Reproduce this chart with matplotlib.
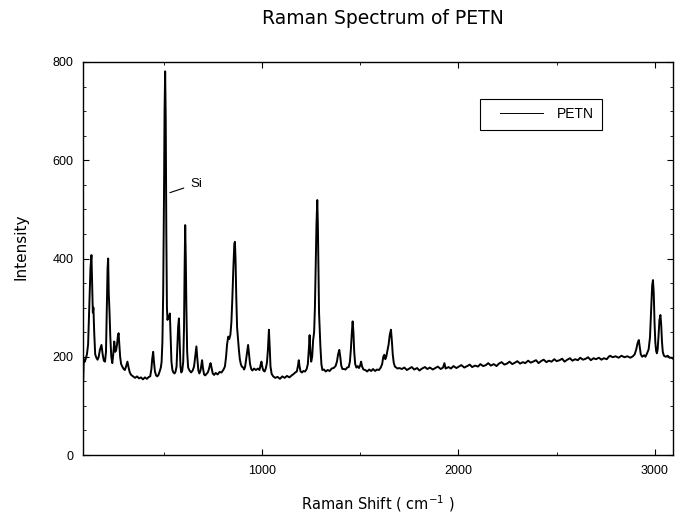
import numpy as np
import matplotlib
matplotlib.use("Agg")
import matplotlib.pyplot as plt
from matplotlib.lines import Line2D
from matplotlib.legend_handler import HandlerLine2D
from matplotlib.ticker import MultipleLocator

# ---- data (Raman shift cm-1, intensity) ----
shift_low = [91, 94, 99, 104, 110, 116, 122, 128, 133, 136, 140, 143, 147, 152, 158, 164, 170, 176,
             184, 190, 196, 202, 207, 211, 215, 218, 221, 225, 229, 234, 239, 244, 249, 254, 259,
             263, 267, 271, 275, 279, 284, 290, 297, 303, 309, 316, 322, 328, 335, 345, 355, 365,
             375, 385, 395, 405, 415, 425, 432, 438, 442, 447, 451, 456, 462, 468, 474, 480, 486,
             490, 494, 498, 502, 505, 508, 511, 514, 517, 520, 524, 528, 532, 536, 540, 545, 550,
             556, 561, 566, 570, 574, 578, 582, 586, 590, 595, 600, 604, 607, 610, 613, 616, 620,
             625, 632, 640, 648, 655, 661, 667, 672, 677, 682, 688, 692, 696]
intensity_low = [150, 195, 190, 196, 205, 225, 300, 380, 407, 360, 290, 300, 250, 205, 198, 194, 200, 214,
                 224, 205, 192, 190, 210, 290, 380, 400, 330, 290, 240, 200, 187, 205, 231, 210, 214,
                 225, 240, 248, 225, 200, 185, 180, 175, 173, 180, 190, 178, 168, 163, 160, 157, 160,
                 156, 158, 154, 158, 155, 159, 160, 175, 195, 210, 190, 170, 162, 160, 163, 170, 178,
                 190, 230, 330, 520, 700, 781, 680, 450, 300, 275, 282, 280, 288, 240, 190, 173, 168,
                 166, 170, 180, 220, 260, 278, 230, 180, 168, 172, 190, 260, 380, 468, 400, 300, 210,
                 178, 172, 168, 172, 180, 200, 221, 195, 172, 166, 172, 182, 193]

shift_mid = [700, 706, 712, 718, 725, 731, 735, 739, 744, 750, 757, 765, 775, 785, 795, 805, 812, 818,
             823, 829, 834, 840, 845, 850, 855, 860, 863, 866, 870, 874, 878, 883, 888, 893, 898, 905,
             910, 915, 920, 925, 930, 935, 940, 946, 952, 960, 970, 980, 988, 994, 998, 1003, 1008,
             1014, 1020, 1026, 1031, 1036, 1040, 1044, 1050, 1058, 1068, 1080, 1092, 1104, 1116, 1128,
             1140, 1152, 1162, 1170, 1178, 1184, 1188, 1192, 1197, 1204, 1212, 1220, 1228, 1234, 1239,
             1243, 1247, 1251, 1256, 1261, 1266, 1270, 1274, 1278, 1282, 1285, 1288, 1291, 1294, 1298,
             1303, 1308, 1316, 1325, 1335, 1345, 1355, 1365, 1375, 1382, 1388, 1394, 1399, 1404, 1410,
             1418, 1426, 1434, 1442, 1448, 1453, 1458, 1462, 1466, 1470, 1475, 1481, 1488, 1494, 1500,
             1505, 1510, 1517, 1526, 1536, 1546, 1556, 1566, 1576, 1586, 1596, 1605, 1612, 1618, 1623,
             1628, 1633, 1638, 1645, 1651, 1657, 1662, 1666, 1671, 1677, 1684, 1690]
intensity_mid = [178, 164, 162, 165, 168, 175, 182, 187, 178, 166, 163, 167, 164, 169, 168, 174, 180, 200,
                 225, 241, 236, 245, 270, 320, 380, 430, 434, 400, 320, 260, 240, 215, 195, 185, 180, 178,
                 174, 180, 195, 210, 224, 205, 185, 175, 172, 176, 173, 176, 173, 184, 190, 178, 172,
                 170, 176, 188, 215, 255, 220, 180, 165, 160, 157, 159, 155, 160, 157, 161, 158,
                 162, 165, 168, 170, 182, 193, 180, 170, 168, 171, 170, 175, 185, 215,
                 244, 210, 190, 200, 234, 250, 300, 380, 470, 519, 470, 380, 290, 261, 220,
                 185, 173, 174, 170, 173, 171, 176, 177, 181, 190, 205, 214, 200, 182, 175,
                 175, 174, 178, 179, 190, 215, 250, 272, 250, 210, 185, 178, 181, 177, 182,
                 190, 180, 174, 173, 170, 174, 171, 175, 171, 174, 173, 178, 185, 200, 204,
                 195, 200, 210, 225, 245, 255, 230, 205, 188, 180, 178, 176]

shift_high = [1700, 1712, 1725, 1738, 1750, 1763, 1775, 1790, 1802, 1815, 1830, 1842, 1855, 1870, 1882,
              1895, 1910, 1922, 1929, 1935, 1950, 1962, 1975, 1990, 2002, 2015, 2030, 2045, 2058, 2070,
              2085, 2100, 2112, 2126, 2140, 2152, 2165, 2180, 2194, 2206, 2220, 2234, 2247, 2260, 2274,
              2288, 2300, 2314, 2328, 2340, 2355, 2368, 2380, 2395, 2408, 2420, 2434, 2448, 2460, 2474,
              2488, 2500, 2515, 2528, 2540, 2554, 2568, 2580, 2594, 2608, 2620, 2634, 2648, 2660, 2674,
              2688, 2700, 2715, 2728, 2740, 2755, 2765, 2772, 2785, 2800, 2815, 2830, 2845, 2860, 2875,
              2888, 2897, 2905, 2912, 2918, 2923, 2928, 2935, 2945, 2952, 2960, 2968, 2975, 2981,
              2986, 2990, 2994, 2998, 3002, 3006, 3010, 3014, 3018, 3023, 3028, 3032, 3036, 3040, 3046,
              3055, 3065, 3075, 3085, 3092]
intensity_high = [177, 175, 178, 173, 176, 179, 174, 177, 172, 176, 179, 175, 178, 174, 177,
                  180, 175, 178, 187, 176, 179, 176, 181, 177, 180, 183, 178, 181, 184, 179,
                  182, 180, 185, 181, 183, 187, 182, 185, 181, 186, 189, 184, 186, 190, 185,
                  188, 191, 186, 189, 187, 192, 188, 190, 193, 187, 191, 194, 189, 192, 190,
                  195, 191, 193, 196, 190, 194, 197, 192, 195, 193, 198, 194, 196, 199, 193,
                  197, 195, 198, 194, 197, 195, 200, 202, 199, 201, 198, 202, 199, 201, 198,
                  201, 205, 215, 228, 234, 220, 205, 200, 203, 200, 207, 215, 240, 300,
                  345, 356, 330, 270, 230, 212, 207, 215, 240, 275, 285, 265, 230, 210, 202,
                  200, 202, 198, 198, 196]

series_name = "PETN"
title_text = "Raman Spectrum of PETN"
x_ticks = [1000, 2000, 3000]
y_ticks = [0, 200, 400, 600, 800]

shift = np.array(shift_low + shift_mid + shift_high, dtype=float)
intensity = np.array(intensity_low + intensity_mid + intensity_high, dtype=float)

plt.rcParams['font.family'] = ['Liberation Sans', 'DejaVu Sans']

fig = plt.figure(figsize=(6.76, 5.17), dpi=100)
ax = fig.add_axes([83/676, 1 - 455/517, 590/676, 393/517])

ax.plot(shift, intensity, color='black', lw=1.4)

ax.set_xlim(90, 3092)
ax.set_ylim(0, 800)
ax.set_xticks(x_ticks)
ax.set_yticks(y_ticks)
ax.xaxis.set_minor_locator(MultipleLocator(500))
ax.yaxis.set_minor_locator(MultipleLocator(50))
ax.tick_params(which='both', direction='in', top=True, right=True, labelsize=9, pad=7)
ax.tick_params(which='major', length=4, width=0.8)
ax.tick_params(which='minor', length=2, width=0.6)
for s in ax.spines.values():
    s.set_linewidth(1.0)

ax.set_xlabel("Raman Shift ( cm$^{-1}$ )", fontsize=10.5, labelpad=12, family='DejaVu Sans')
ax.set_ylabel("Intensity", fontsize=11, labelpad=17, family='DejaVu Sans')
ax.yaxis.label.set_y(0.53)
fig.text(383/676, 1 - 19/517, title_text, ha='center', va='center', fontsize=13.5,
         family='DejaVu Sans')

handle = Line2D([], [], color='black', lw=0.7)
leg = ax.legend([handle], [series_name], loc='upper left', bbox_to_anchor=(0.673, 0.906),
                handler_map={handle: HandlerLine2D(xpad=0.86)},
                fontsize=10, frameon=True, fancybox=False, edgecolor='black', framealpha=1,
                handlelength=3.96, handletextpad=0.94, borderpad=0.6, borderaxespad=0)
leg.get_frame().set_linewidth(0.8)

ax.annotate("Si", xy=(532, 534), xytext=(637, 552), fontsize=9.5, ha='left', va='center',
            arrowprops=dict(arrowstyle='-', color='black', lw=0.8, shrinkA=3, shrinkB=0))

fig.savefig("out.png", dpi=100)
